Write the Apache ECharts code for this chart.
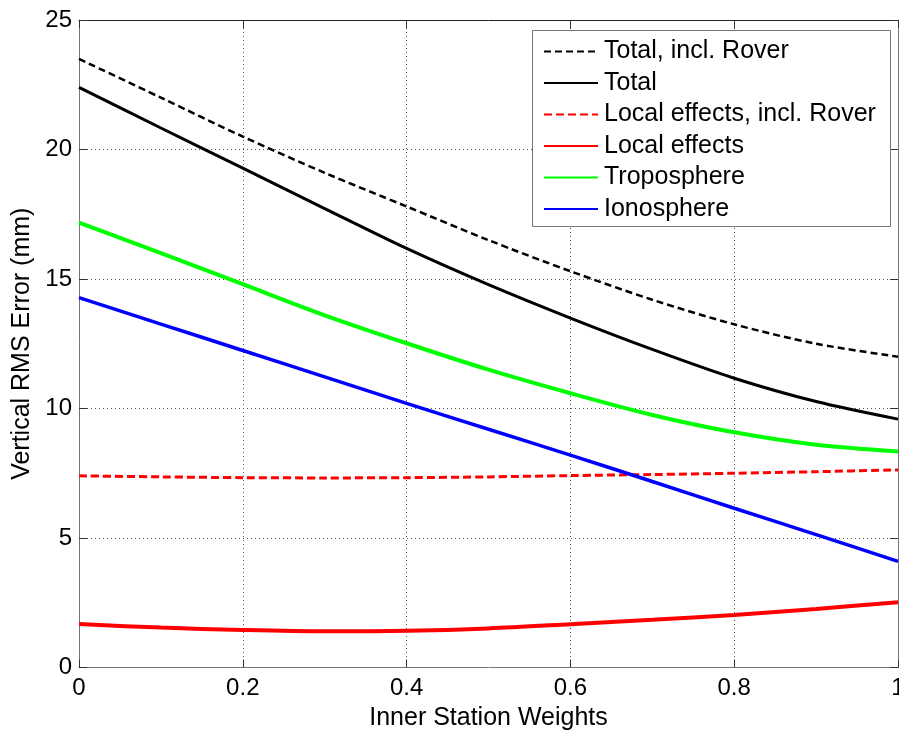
<!DOCTYPE html>
<html>
<head>
<meta charset="utf-8">
<script src="https://cdn.jsdelivr.net/npm/echarts@6/dist/echarts.min.js"></script>
<style>
  html, body { margin: 0; padding: 0; background: #fff; }
  #chart { width: 899px; height: 733px; }
</style>
</head>
<body>
<div id="chart"></div>
<script>
// Inner station weight (x) and vertical RMS error components in mm
const weights = [0, 0.1, 0.2, 0.3, 0.4, 0.5, 0.6, 0.7, 0.8, 0.9, 1.0];
const totalInclRover = [23.5, 22.0, 20.5, 19.1, 17.8, 16.5, 15.3, 14.2, 13.25, 12.5, 12.0];
const total = [22.4, 20.83, 19.28, 17.72, 16.18, 14.78, 13.49, 12.28, 11.17, 10.27, 9.59];
const localInclRover = [7.40, 7.36, 7.33, 7.32, 7.33, 7.36, 7.41, 7.45, 7.50, 7.56, 7.63];
const localEffects = [1.68, 1.54, 1.45, 1.40, 1.42, 1.51, 1.67, 1.84, 2.03, 2.26, 2.52];
const troposphere = [17.18, 16.0, 14.8, 13.6, 12.52, 11.5, 10.59, 9.75, 9.08, 8.6, 8.34];
const ionosphere = [14.28, 13.26, 12.24, 11.22, 10.2, 9.2, 8.2, 7.18, 6.15, 5.13, 4.1];

const seriesNames = ['Total, incl. Rover', 'Total', 'Local effects, incl. Rover', 'Local effects', 'Troposphere', 'Ionosphere'];

const FONT = 'Liberation Sans, Arial, Helvetica, sans-serif';
const pairs = vals => weights.map((w, i) => [w, vals[i]]);

function lineSeries(name, vals, color, width, dash) {
  return {
    name: name,
    type: 'line',
    data: pairs(vals),
    smooth: 0.3,
    symbol: 'none',
    z: 3,
    lineStyle: { color: color, width: width, type: dash || 'solid' },
    itemStyle: { color: color },
    emphasis: { disabled: true }
  };
}

const chart = echarts.init(document.getElementById('chart'), null, { renderer: 'canvas' });

const gridLine = { show: true, lineStyle: { color: '#555', width: 1, type: [1, 3] } };
const tick = { show: true, inside: true, length: 8, lineStyle: { color: '#333' } };

chart.setOption({
  animation: false,
  backgroundColor: '#fff',
  grid: { left: 79, top: 20, right: 1, bottom: 65.5, outerBoundsMode: 'none', containLabel: false },
  xAxis: [{
    type: 'value', min: 0, max: 1, interval: 0.2, position: 'bottom',
    name: 'Inner Station Weights', nameLocation: 'middle', nameGap: 33,
    nameTextStyle: { fontFamily: FONT, fontSize: 25, color: '#000' },
    axisLine: { show: true, onZero: false, lineStyle: { color: '#777', width: 1 } },
    axisTick: tick,
    axisLabel: { fontFamily: FONT, fontSize: 24, color: '#000', margin: 9,
      formatter: v => String(+v.toFixed(1)) },
    splitLine: gridLine
  }, {
    type: 'value', min: 0, max: 1, interval: 0.2, position: 'top',
    axisLine: { show: true, onZero: false, lineStyle: { color: '#222', width: 1 } },
    axisTick: tick,
    axisLabel: { show: false }, splitLine: { show: false }
  }],
  yAxis: [{
    type: 'value', min: 0, max: 25, interval: 5, position: 'left',
    name: 'Vertical RMS Error (mm)', nameLocation: 'middle', nameGap: 43,
    nameTextStyle: { fontFamily: FONT, fontSize: 25, color: '#000' },
    axisLine: { show: true, onZero: false, lineStyle: { color: '#777', width: 1 } },
    axisTick: tick,
    axisLabel: { fontFamily: FONT, fontSize: 24, color: '#000', margin: 7 },
    splitLine: gridLine
  }, {
    type: 'value', min: 0, max: 25, interval: 5, position: 'right',
    axisLine: { show: true, onZero: false, lineStyle: { color: '#777', width: 1 } },
    axisTick: tick,
    axisLabel: { show: false }, splitLine: { show: false }
  }],
  graphic: [{
    type: 'rect', z: 50,
    shape: { x: 532.5, y: 30.5, width: 358, height: 196 },
    style: { fill: '#fff', stroke: '#777', lineWidth: 1 }
  }],
  legend: {
    orient: 'vertical', left: 532, top: 30, z: 60,
    padding: [9, 11, 7, 11],
    itemWidth: 54, itemHeight: 24, itemGap: 6.5,
    data: seriesNames,
    selectedMode: false,
    itemStyle: { opacity: 0, borderWidth: 0 },
    textStyle: { fontFamily: FONT, fontSize: 25, color: '#000', padding: [0, 0, 0, 1] }
  },
  series: [
    lineSeries(seriesNames[0], totalInclRover, '#000', 2.5, [7, 4]),
    lineSeries(seriesNames[1], total, '#000', 3),
    lineSeries(seriesNames[2], localInclRover, '#ff0000', 3, [8, 4]),
    lineSeries(seriesNames[3], localEffects, '#ff0000', 4),
    lineSeries(seriesNames[4], troposphere, '#00ff00', 4),
    lineSeries(seriesNames[5], ionosphere, '#0000ff', 3.5)
  ]
});
</script>
</body>
</html>
